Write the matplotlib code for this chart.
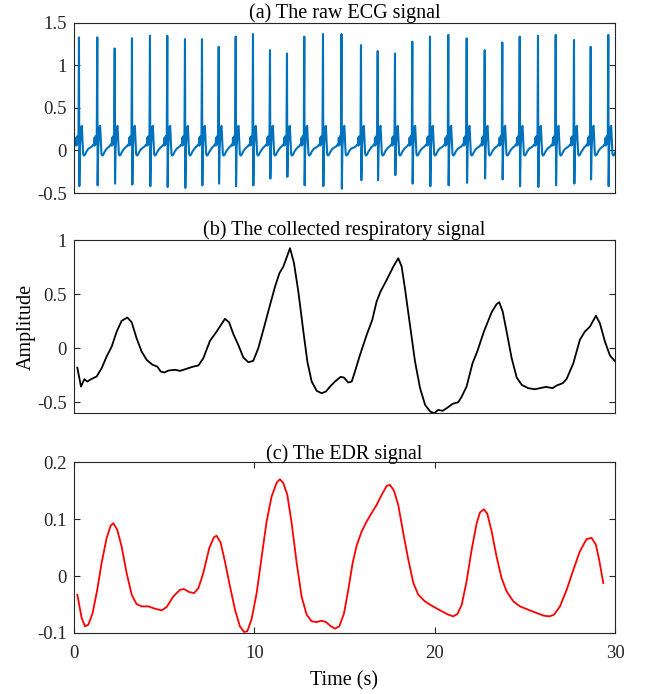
import numpy as np
import matplotlib
matplotlib.use('Agg')
import matplotlib.pyplot as plt

# MATLAB-like look with a Times-style serif font
plt.rcParams['font.family'] = ['Liberation Serif', 'DejaVu Serif']
plt.rcParams['axes.unicode_minus'] = False
plt.rcParams['font.size'] = 13

AX_COLOR = '#262626'

# ==========================================
# (a) raw ECG: R-peak times / heights, S-trough depths, one beat shape
# ==========================================
r_times = [0.277, 1.292, 2.257, 3.216, 4.214, 5.174, 6.155, 7.098, 8.024, 8.967,
           9.926, 10.869, 11.811, 12.771, 13.808, 14.834, 15.915, 16.841, 17.800, 18.760,
           19.741, 20.756, 21.776, 22.775, 23.750, 24.715, 25.730, 26.712, 27.726, 28.652,
           29.628]
r_heights = [1.33, 1.33, 1.20, 1.32, 1.35, 1.35, 1.31, 1.31, 1.22, 1.34,
             1.37, 1.18, 1.14, 1.34, 1.37, 1.37, 1.24, 1.17, 1.14, 1.28,
             1.34, 1.36, 1.32, 1.18, 1.27, 1.34, 1.35, 1.36, 1.30, 1.22,
             1.36]
s_depths = [-0.42, -0.41, -0.39, -0.40, -0.42, -0.43, -0.44, -0.41, -0.39, -0.42,
            -0.41, -0.33, -0.31, -0.41, -0.42, -0.45, -0.35, -0.35, -0.29, -0.39,
            -0.42, -0.41, -0.38, -0.33, -0.34, -0.42, -0.43, -0.41, -0.39, -0.34,
            -0.42]
# beat shape around the R peak (offset in s, value); R and S slots filled per beat
beat_offsets = [-0.35, -0.28, -0.22, -0.17, -0.15, -0.13, -0.10, -0.08, -0.06, -0.03,
                0.0, 0.02, 0.05, 0.09, 0.13, 0.16, 0.19, 0.23, 0.27, 0.33, 0.42, 0.52]
beat_values = [0.04, 0.05, 0.07, 0.06, 0.15, 0.06, 0.10, 0.17, 0.08, 0.12,
               None, None, 0.02, 0.18, 0.28, 0.29, 0.14, -0.04, -0.06, -0.05, -0.01, 0.02]

# ==========================================
# (b) collected respiratory signal
# ==========================================
resp_t = [0.185, 0.388, 0.573, 0.739, 0.98, 1.257, 1.535, 1.81, 2.09, 2.37,
          2.64, 2.96, 3.2, 3.47, 3.75, 4.03, 4.36, 4.62, 4.81, 5.01,
          5.23, 5.6, 5.88, 6.25, 6.62, 6.9, 7.17, 7.54, 7.91, 8.37,
          8.6, 8.84, 9.11, 9.39, 9.67, 9.94, 10.22, 10.5, 10.87, 11.15,
          11.39, 11.61, 11.98, 12.2, 12.44, 12.72, 12.94, 13.18, 13.46, 13.73,
          13.97, 14.2, 14.47, 14.79, 14.97, 15.21, 15.40, 15.58, 15.86, 16.23,
          16.54, 16.78, 17.0, 17.34, 17.71, 17.98, 18.17, 18.35, 18.63, 18.91,
          19.19, 19.47, 19.75, 19.98, 20.2, 20.44, 20.66, 21.0, 21.31, 21.5,
          21.77, 22.1, 22.36, 22.73, 23.16, 23.43, 23.58, 23.77, 23.99, 24.27,
          24.55, 24.83, 25.19, 25.56, 25.84, 26.17, 26.54, 26.76, 27.1, 27.32,
          27.69, 28.05, 28.33, 28.61, 28.94, 29.16, 29.44, 29.72, 30.0]
resp_v = [-0.18, -0.355, -0.287, -0.309, -0.284, -0.262, -0.185, -0.077, 0.015, 0.154,
          0.253, 0.284, 0.24, 0.093, -0.031, -0.108, -0.154, -0.17, -0.216, -0.225,
          -0.207, -0.2, -0.21, -0.19, -0.17, -0.16, -0.093, 0.068, 0.154, 0.272,
          0.24, 0.13, 0.031, -0.086, -0.13, -0.117, 0.0, 0.17, 0.40, 0.571,
          0.694, 0.756, 0.926, 0.787, 0.525, 0.154, -0.123, -0.309, -0.395, -0.417,
          -0.401, -0.355, -0.309, -0.265, -0.272, -0.318, -0.309, -0.216, -0.062, 0.123,
          0.262, 0.432, 0.525, 0.633, 0.756, 0.833, 0.756, 0.556, 0.216, -0.123,
          -0.37, -0.525, -0.586, -0.602, -0.571, -0.58, -0.556, -0.515, -0.5, -0.448,
          -0.355, -0.139, -0.031, 0.154, 0.333, 0.407, 0.426, 0.34, 0.154, -0.093,
          -0.272, -0.34, -0.37, -0.38, -0.37, -0.358, -0.37, -0.346, -0.324, -0.284,
          -0.139, 0.077, 0.154, 0.2, 0.3, 0.231, 0.062, -0.068, -0.12]

# ==========================================
# (c) EDR signal
# ==========================================
edr_t = [0.185, 0.425, 0.61, 0.795, 1.035, 1.29, 1.53, 1.81, 2.03, 2.18,
         2.4, 2.64, 2.92, 3.2, 3.47, 3.75, 4.12, 4.49, 4.86, 5.14,
         5.51, 5.88, 6.1, 6.39, 6.66, 6.9, 7.17, 7.5, 7.76, 7.91,
         8.13, 8.37, 8.65, 8.93, 9.2, 9.43, 9.61, 9.85, 10.13, 10.41,
         10.68, 10.96, 11.24, 11.42, 11.61, 11.83, 12.07, 12.35, 12.62, 12.9,
         13.18, 13.46, 13.73, 13.97, 14.2, 14.47, 14.71, 14.97, 15.21, 15.45,
         15.67, 15.95, 16.23, 16.5, 16.78, 17.06, 17.34, 17.52, 17.74, 17.98,
         18.26, 18.54, 18.82, 19.09, 19.46, 19.83, 20.3, 20.76, 21.03, 21.26,
         21.5, 21.77, 22.05, 22.33, 22.51, 22.73, 22.92, 23.16, 23.43, 23.71,
         23.99, 24.36, 24.73, 25.19, 25.65, 26.06, 26.36, 26.62, 26.95, 27.32,
         27.69, 28.05, 28.42, 28.7, 28.94, 29.12, 29.35]
edr_v = [-0.0327, -0.0737, -0.0883, -0.0854, -0.065, -0.024, 0.0228, 0.0667, 0.0883, 0.093,
         0.0813, 0.052, 0.0053, -0.0327, -0.0491, -0.0532, -0.0532, -0.0573, -0.0602, -0.0544,
         -0.0357, -0.024, -0.0228, -0.0281, -0.0298, -0.0211, 0.0053, 0.0491, 0.0684, 0.0708,
         0.059, 0.0257, -0.0181, -0.0591, -0.0883, -0.0982, -0.097, -0.0754, -0.0298, 0.0345,
         0.0959, 0.1398, 0.1643, 0.1702, 0.1632, 0.1427, 0.093, 0.0228, -0.0357, -0.0678,
         -0.0795, -0.0807, -0.0784, -0.0807, -0.0871, -0.0924, -0.0883, -0.0661, -0.024, 0.0228,
         0.0532, 0.0784, 0.0959, 0.1105, 0.1251, 0.1427, 0.1585, 0.1602, 0.1503, 0.1251,
         0.0754, 0.0287, -0.0123, -0.0327, -0.0444, -0.052, -0.0602, -0.0678, -0.0708, -0.0667,
         -0.0503, -0.0094, 0.0462, 0.093, 0.1117, 0.1175, 0.1094, 0.0784, 0.0345, -0.0035,
         -0.0269, -0.0444, -0.0532, -0.0591, -0.0649, -0.0696, -0.0708, -0.0678, -0.0532, -0.024,
         0.0111, 0.0433, 0.0649, 0.0673, 0.055, 0.0287, -0.0123]

x_ticks = [0, 10, 20, 30]
ecg_yticks = [-0.5, 0, 0.5, 1, 1.5]
ecg_ylabels = ['-0.5', '0', '0.5', '1', '1.5']
resp_yticks = [-0.5, 0, 0.5, 1]
resp_ylabels = ['-0.5', '0', '0.5', '1']
edr_yticks = [-0.1, 0, 0.1, 0.2]
edr_ylabels = ['-0.1', '0', '0.1', '0.2']


def build_ecg():
    t, v = [], []
    for rt, rh, sd in zip(r_times, r_heights, s_depths):
        for off, val in zip(beat_offsets, beat_values):
            if val is None:
                val = rh if off == 0.0 else sd
            t.append(rt + off)
            v.append(val)
    return np.array(t), np.array(v)


def style_axes(ax):
    for sp in ax.spines.values():
        sp.set_color(AX_COLOR)
        sp.set_linewidth(0.8)
    ax.tick_params(direction='in', length=4, width=0.8, colors=AX_COLOR,
                   top=True, right=True, labelsize=13.5)
    ax.tick_params(axis='y', pad=5)
    ax.tick_params(axis='x', pad=9)


fig = plt.figure(figsize=(6.45, 6.94), dpi=100)
L, W = 0.1147, 0.8388
ax1 = fig.add_axes([L, 0.7219, W, 0.245])
ax2 = fig.add_axes([L, 0.4049, W, 0.249])
ax3 = fig.add_axes([L, 0.0879, W, 0.246])

ecg_t, ecg_v = build_ecg()
ax1.plot(ecg_t, ecg_v, color='#0072BD', lw=1.5)
ax1.set_xlim(0, 30)
ax1.set_ylim(-0.5, 1.5)
ax1.set_xticks([])
ax1.set_yticks(ecg_yticks, ecg_ylabels)
ax1.set_title('(a) The raw ECG signal', fontsize=14.5, pad=2)
style_axes(ax1)

ax2.plot(resp_t, resp_v, color='black', lw=1.3)
ax2.set_xlim(0, 30)
ax2.set_ylim(-0.6, 1)
ax2.set_xticks([])
ax2.set_yticks(resp_yticks, resp_ylabels)
ax2.set_title('(b) The collected respiratory signal', fontsize=14.5, pad=2)
ax2.set_ylabel('Amplitude', fontsize=14.5, labelpad=1)
style_axes(ax2)

ax3.plot(edr_t, edr_v, color='#FF0000', lw=1.3)
ax3.set_xlim(0, 30)
ax3.set_ylim(-0.1, 0.2)
ax3.set_xticks(x_ticks)
ax3.set_yticks(edr_yticks, edr_ylabels)
ax3.set_title('(c) The EDR signal', fontsize=14.5, pad=2)
ax3.set_xlabel('Time (s)', fontsize=14.5, labelpad=6)
style_axes(ax3)

fig.savefig('out.png', dpi=100)
